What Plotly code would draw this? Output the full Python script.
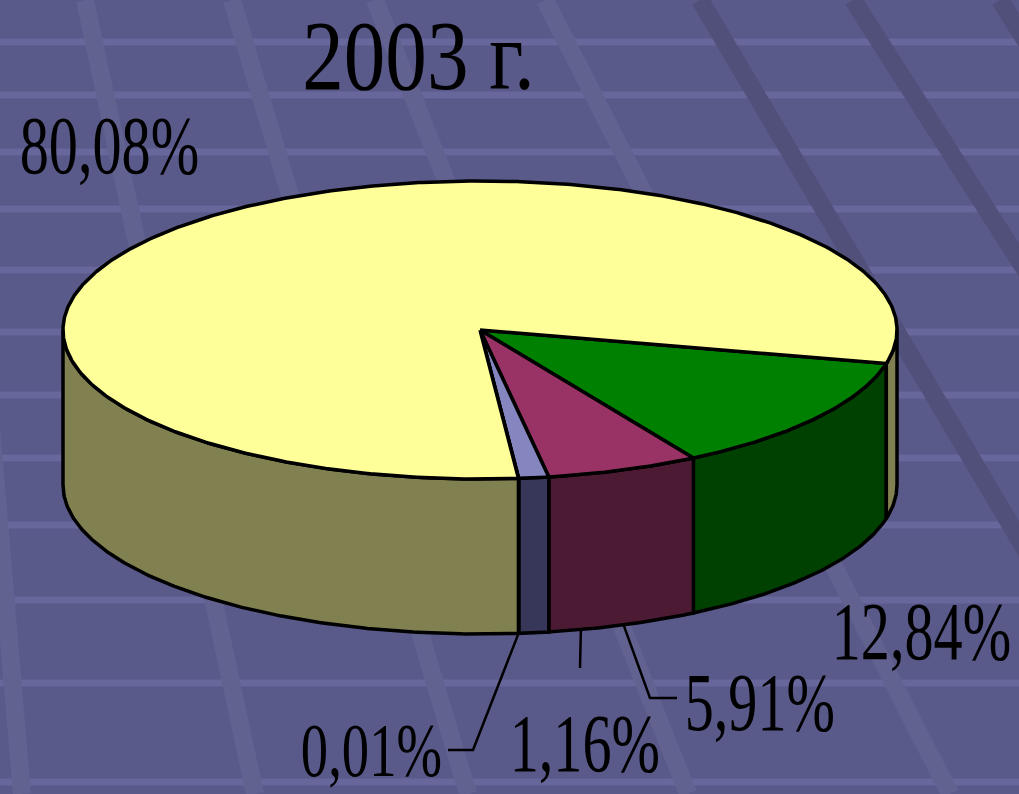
import numpy as np
import plotly.graph_objects as go

# ---------------- data ----------------
labels = ["12,84%", "5,91%", "1,16%", "0,01%", "80,08%"]
values = [12.84, 5.91, 1.16, 0.01, 80.08]
title_text = "2003 г."

# ---------------- styles ----------------
top_colors = ["#008000", "#993366", "#8585C0", "#CCFFFF", "#FFFF99"]
side_colors = ["#004000", "#4D1A33", "#37375A", "#668080", "#808050"]

W, H = 1019, 794
CX, CY, RX, RY, DEPTH = 480, 330, 417, 149, 155
START_DEG = 13.0
BG = "#59598A"
FONT = "Liberation Serif, Times New Roman, serif"
SQUISH = 0.71
TITLE_SQUISH = 0.84

# label placement (pixel space), font sizes, leader settings
label_xy = {"12,84%": (921, 631), "5,91%": (760, 702), "1,16%": (585, 743),
            "0,01%": (371, 750), "80,08%": (109, 145)}
label_size = {"12,84%": 82, "5,91%": 82, "1,16%": 82, "0,01%": 77, "80,08%": 82}
leader_angle = {"5,91%": None, "1,16%": 76.0, "0,01%": None}   # None -> slice mid angle
leader_path = {"5,91%": [(650, 698), (677, 698)],
               "1,16%": [(580, 668)],
               "0,01%": [(473, 750), (448, 750)]}

# background decoration
h_bands = [42, 95, 152, 209, 270, 332, 395, 458, 525, 600, 683, 782]
diag_light = [(-45, 22), (85, 255), (232, 468), (375, 688), (545, 950)]
diag_dark = [(700, 1170), (853, 1360), (1000, 1500)]


def ell(t_deg, dy=0.0):
    t = np.radians(t_deg)
    return CX + RX * np.cos(t), CY + RY * np.sin(t) + dy


fig = go.Figure()

# slice angles
total = sum(values)
bounds = []
a = START_DEG
for v in values:
    b = a + v / total * 360.0
    bounds.append((a, b))
    a = b

# side faces (front half only)
for (a, b), col in zip(bounds, side_colors):
    for lo, hi in [(0, 180), (360, 540)]:
        s, e = max(a, lo), min(b, hi)
        if e <= s:
            continue
        n = max(2, int((e - s) * 2) + 2)
        ts = np.linspace(s, e, n)
        xt, yt = ell(ts)
        xb, yb = ell(ts[::-1], DEPTH)
        xs = np.concatenate([xt, xb, xt[:1]])
        ys = np.concatenate([yt, yb, yt[:1]])
        fig.add_trace(go.Scatter(x=xs, y=ys, mode="lines", fill="toself",
                                 fillcolor=col, line=dict(color="black", width=3.5),
                                 hoverinfo="skip"))

# top faces
for (a, b), col in zip(bounds, top_colors):
    n = max(2, int((b - a) * 2) + 2)
    ts = np.linspace(a, b, n)
    xa, ya = ell(ts)
    xs = np.concatenate([[CX], xa, [CX]])
    ys = np.concatenate([[CY], ya, [CY]])
    fig.add_trace(go.Scatter(x=xs, y=ys, mode="lines", fill="toself",
                             fillcolor=col, line=dict(color="black", width=3.5),
                             hoverinfo="skip"))

# leader lines
for lab, (a, b) in zip(labels, bounds):
    if lab not in leader_path:
        continue
    ang = leader_angle[lab] if leader_angle[lab] is not None else (a + b) / 2
    x0, y0 = ell(ang, DEPTH)
    pts = [(x0, y0)] + leader_path[lab]
    fig.add_trace(go.Scatter(x=[p[0] for p in pts], y=[p[1] for p in pts], mode="lines",
                             line=dict(color="black", width=2.5), hoverinfo="skip"))

# labels
annotations = []
for lab in labels:
    x, y = label_xy[lab]
    annotations.append(dict(x=x, y=y, xref="x", yref="y", text=lab, showarrow=False,
                            xanchor="center", yanchor="middle",
                            font=dict(family=FONT, size=label_size[lab], color="black")))
annotations.append(dict(x=418, y=55, xref="x", yref="y", text=title_text, showarrow=False,
                        xanchor="center", yanchor="middle", name="title",
                        font=dict(family=FONT, size=99, color="black")))

# background shapes
shapes = []
for y in h_bands:
    shapes.append(dict(type="line", xref="x", yref="y", x0=0, x1=W, y0=y, y1=y,
                       line=dict(color="#67679C", width=7), layer="below"))
for x0, x1 in diag_light:
    shapes.append(dict(type="line", xref="x", yref="y", x0=x0, x1=x1, y0=0, y1=H,
                       line=dict(color="#626291", width=18), layer="below"))
for x0, x1 in diag_dark:
    shapes.append(dict(type="line", xref="x", yref="y", x0=x0, x1=x1, y0=0, y1=H,
                       line=dict(color="#50507B", width=18), layer="below"))

fig.update_layout(
    width=W, height=H, margin=dict(l=0, r=0, t=0, b=0),
    paper_bgcolor=BG, plot_bgcolor=BG, showlegend=False, hovermode=False,
    xaxis=dict(range=[0, W], visible=False, fixedrange=True),
    yaxis=dict(range=[H, 0], visible=False, fixedrange=True),
    annotations=annotations, shapes=shapes,
)

post = """
document.body.style.margin = '0';
document.body.style.background = '%BG%';
var gd = document.getElementById('{plot_id}');
function squish(){
  var ts = gd.querySelectorAll('.annotation-text');
  ts.forEach(function(t){
    var s = (t.textContent.indexOf('г') >= 0) ? %T% : %S%;
    t.style.transformBox = 'fill-box';
    t.style.transformOrigin = '50% 50%';
    t.style.transform = 'scaleX(' + s + ')';
  });
}
squish();
if (gd && gd.on) { gd.on('plotly_afterplot', squish); }
setTimeout(squish, 30);
""".replace("%S%", str(SQUISH)).replace("%T%", str(TITLE_SQUISH)).replace("%BG%", BG)

fig.write_html("out.html", post_script=post, config={"staticPlot": True})
